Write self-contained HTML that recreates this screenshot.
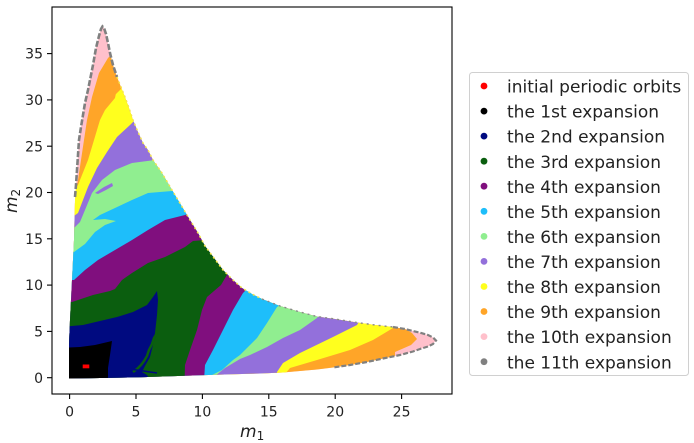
<!DOCTYPE html>
<html><head><meta charset="utf-8"><style>
html,body{margin:0;padding:0;background:#fff;}
svg{display:block;}
text{font-family:"DejaVu Sans","Liberation Sans",sans-serif;fill:#222;}
</style></head><body>
<svg width="694" height="443" viewBox="0 0 694 443" xmlns="http://www.w3.org/2000/svg">
<defs>
<clipPath id="shape">
<polygon id="outer" points="69,378.5 69,345 70,320 71,300 72,280 73,260 74,240 74.5,220 75,200 76,185 77,170 78,155 79,140 81,127 83,115 85,103 88,90 90,80 93,65 96,48 99,36 101,29 102.5,26.5 104,28 106,34 108,43 110,53 113,65 117,77 121,87 125,97 129,108 133,120 138,132 143,143 148,150 153,160 162,173 172,190 181,205 190,220 198,233 205,246 214,258 223,270 233,280 242,288 252,294 262,299 280,306 300,312 317,316.5 335,319 357,322.5 375,325 393,327 405,329 413,331 421,333 428,335 433,337.5 436,340.5 433,344 428,346.5 420,349 413,351.5 400,355 383,358.5 367,362 350,365 333,367.5 317,369.5 300,371 283,372.5 260,373.5 233,374.3 200,375.3 170,376.3 140,377.3 100,378 69,378.5"/>
</clipPath>
</defs>
<rect width="694" height="443" fill="#fff"/>
<g clip-path="url(#shape)">
<rect x="0" y="0" width="694" height="443" fill="#ffc0cb"/>
<!-- 9th orange -->
<polygon fill="#ffa528" points="20,443 20,215 75,203 76,190 78,180 81,160 84,140 87,120 92,97 99,73 108,58 112,54 200,30 300,200 420,300 400,326 412,333 417,339 411,345 395,352 395,443"/>
<!-- 8th yellow -->
<polygon fill="#ffff1e" points="20,443 20,192 74,190 78,185 82,175 88,160 94,140 100,120 110,100 118,92 124,86 200,60 300,200 400,300 395,322 393,328 373,340 350,350 317,360 290,368 285,374 283,443"/>
<polygon fill="#ffa528" points="116,93 112,97 106,104 103,111 105,110 110,104 115,98"/>
<!-- 7th mediumpurple -->
<polygon fill="#9370db" points="20,443 20,218 74,216 78,213 83,200 88,187 97,168 107,152 117,137 130,125 135,120 250,100 380,280 360,320 357,325 333,337 300,353 283,363 277,372 274,443"/>
<!-- 6th lightgreen -->
<polygon fill="#90ee90" points="20,443 20,230 74,228 80,222 85,210 92,193 102,180 115,170 132,163 155,160 165,150 290,150 330,290 320,314 317,318 300,330 283,338 267,347 250,355 240,359 225,368 215,376 214,443"/>
<polygon fill="#9370db" points="112,183 104,187 95,193 98,194 106,190 113,186"/>
<!-- 5th deepskyblue -->
<polygon fill="#1ebefa" points="20,443 20,254 74,252 85,244 95,232 105,225 116,221 105,219 93,220 100,215 115,208 132,200 148,193 172,191 178,188 290,200 300,290 280,305 277,307 267,323 257,338 250,345 240,355 233,360 222,370 210,376 208,443"/>
<!-- 4th purple -->
<polygon fill="#800f7e" points="20,443 20,280 74,280 85,270 98,260 115,250 132,240 148,230 165,220 185,215 192,212 260,220 260,285 246,290 243,293 233,310 223,330 213,350 205,365 200,443"/>
<!-- 3rd darkgreen -->
<polygon fill="#0b5e0f" points="20,443 20,303 72,302 93,295 110,291 115,289 122,280 132,273 148,263 165,257 185,247 193,241 205,240 240,250 240,270 228,273 221,285 207,297 202,310 197,330 190,350 185,365 183,443"/>
<!-- 2nd navy -->
<polygon fill="#000a80" points="60,327 83,325 100,321 117,317 133,312 147,305 153,297 157,291 158,300 157,315 155,333 153,345 150,357 145,366 142,372 147,375 150,380 60,380"/>
<path d="M157,333 L154,338 L152,344 L149,350 L147,356 L144,361 L141,365 L137,369 L133,372" stroke="#0b5e0f" stroke-width="2.5" fill="none"/>
<path d="M110,366 L130,369 L150,372 L157,373" stroke="#000a80" stroke-width="1.5" fill="none"/>
<!-- 1st black -->
<polygon fill="#000" points="60,348 80,347 95,345 112,341 110,355 108,368 108,380 60,380"/>
<!-- initial red -->
<rect x="82.7" y="364.5" width="6.6" height="3.8" fill="#ff0000"/>
</g>
<!-- outline speckles -->
<path d="M75,197 L76,185 L77,170 L78,155 L79,140 L81,127 L83,115 L85,103 L88,90 L90,80 L93,65 L96,48 L99,36 L101,29 L102.5,26.5 L104,28 L106,34 L108,43 L110,53 L113,65 L117,77" fill="none" stroke="#808080" stroke-width="2.6" stroke-dasharray="6 2"/>
<path d="M117,77 L121,87 L125,97 L129,108 L133,120 L138,132 L143,143 L148,150 L153,160 L162,173 L172,190 L181,205 L190,220 L198,233 L205,246 L214,258 L223,270 L233,280 L242,288 L252,294 L262,299" fill="none" stroke="#f5e64a" stroke-width="1.5" stroke-dasharray="2 3"/>
<path d="M262,299 L280,306 L300,312 L317,316.5 L335,319 L357,322.5 L375,325 L393,327" fill="none" stroke="#8a8a8a" stroke-width="1.4" stroke-dasharray="2 4"/>
<path d="M393,327 L405,329 L413,331 L421,333 L428,335 L433,337.5 L436,340.5 L433,344 L428,346.5 L420,349 L413,351.5 L400,355 L383,358.5 L367,362 L350,365 L333,367.5" fill="none" stroke="#808080" stroke-width="2.2" stroke-dasharray="5 2"/>
<!-- axes frame -->
<rect x="52" y="7" width="400" height="387" fill="none" stroke="#000" stroke-width="1.1"/>
<!-- x ticks -->
<g stroke="#000" stroke-width="1.1">
<line x1="69.6" y1="394" x2="69.6" y2="399"/>
<line x1="136" y1="394" x2="136" y2="399"/>
<line x1="202.4" y1="394" x2="202.4" y2="399"/>
<line x1="268.8" y1="394" x2="268.8" y2="399"/>
<line x1="335.2" y1="394" x2="335.2" y2="399"/>
<line x1="401.6" y1="394" x2="401.6" y2="399"/>
<line x1="47" y1="377.7" x2="52" y2="377.7"/>
<line x1="47" y1="331.4" x2="52" y2="331.4"/>
<line x1="47" y1="285.1" x2="52" y2="285.1"/>
<line x1="47" y1="238.8" x2="52" y2="238.8"/>
<line x1="47" y1="192.5" x2="52" y2="192.5"/>
<line x1="47" y1="146.2" x2="52" y2="146.2"/>
<line x1="47" y1="99.9" x2="52" y2="99.9"/>
<line x1="47" y1="53.6" x2="52" y2="53.6"/>
</g>
<g font-size="14" text-anchor="middle">
<text x="69.6" y="416.5">0</text>
<text x="136" y="416.5">5</text>
<text x="202.4" y="416.5">10</text>
<text x="268.8" y="416.5">15</text>
<text x="335.2" y="416.5">20</text>
<text x="401.6" y="416.5">25</text>
</g>
<g font-size="14" text-anchor="end">
<text x="43" y="382.8">0</text>
<text x="43" y="336.5">5</text>
<text x="43" y="290.2">10</text>
<text x="43" y="243.9">15</text>
<text x="43" y="197.6">20</text>
<text x="43" y="151.3">25</text>
<text x="43" y="105">30</text>
<text x="43" y="58.7">35</text>
</g>
<!-- axis labels -->
<text x="240" y="437" font-size="17" font-style="italic">m<tspan font-size="12" font-style="normal" dy="3">1</tspan></text>
<text transform="translate(17,213) rotate(-90)" font-size="17" font-style="italic">m<tspan font-size="12" font-style="normal" dy="3">2</tspan></text>
<!-- legend -->
<rect x="469.5" y="72.5" width="219" height="303" rx="3" ry="3" fill="#fff" stroke="#d0d0d0" stroke-width="1"/>
<g>
<circle cx="484" cy="86" r="3.4" fill="#ff0000"/>
<circle cx="484" cy="111.1" r="3.4" fill="#000"/>
<circle cx="484" cy="136.1" r="3.4" fill="#000a80"/>
<circle cx="484" cy="161.2" r="3.4" fill="#0b5e0f"/>
<circle cx="484" cy="186.2" r="3.4" fill="#800f7e"/>
<circle cx="484" cy="211.3" r="3.4" fill="#1ebefa"/>
<circle cx="484" cy="236.4" r="3.4" fill="#90ee90"/>
<circle cx="484" cy="261.4" r="3.4" fill="#9370db"/>
<circle cx="484" cy="286.5" r="3.4" fill="#ffff1e"/>
<circle cx="484" cy="311.5" r="3.4" fill="#ffa528"/>
<circle cx="484" cy="336.6" r="3.4" fill="#ffc0cb"/>
<circle cx="484" cy="361.7" r="3.4" fill="#808080"/>
</g>
<g font-size="17">
<text x="507" y="92.6">initial periodic orbits</text>
<text x="507" y="117.7">the 1st expansion</text>
<text x="507" y="142.7">the 2nd expansion</text>
<text x="507" y="167.8">the 3rd expansion</text>
<text x="507" y="192.8">the 4th expansion</text>
<text x="507" y="217.9">the 5th expansion</text>
<text x="507" y="243">the 6th expansion</text>
<text x="507" y="268">the 7th expansion</text>
<text x="507" y="293.1">the 8th expansion</text>
<text x="507" y="318.1">the 9th expansion</text>
<text x="507" y="343.2">the 10th expansion</text>
<text x="507" y="368.3">the 11th expansion</text>
</g>
</svg>
</body></html>
